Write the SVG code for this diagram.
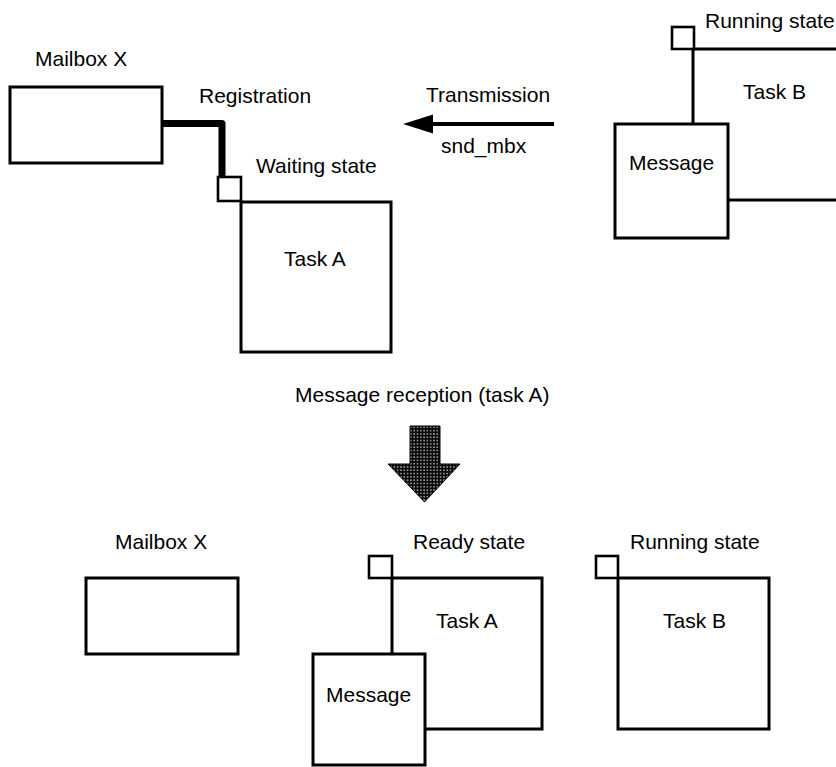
<svg xmlns="http://www.w3.org/2000/svg" width="836" height="767" viewBox="0 0 836 767">
  <defs>
    <style>
      .box { fill: #fff; stroke: #000; stroke-width: 3; }
      .tag { fill: #fff; stroke: #000; stroke-width: 2.6; }
      .lbl { font-family: "Liberation Sans", Arial, Helvetica, sans-serif; font-size: 21px; fill: #000; }
    </style>
    <!-- dense dark mesh used for the transition arrow -->
    <pattern id="mesh" width="3.3" height="3.3" patternUnits="userSpaceOnUse">
      <rect width="3.3" height="3.3" fill="#0a0a0a"/>
      <rect x="1.05" y="1.05" width="1.3" height="1.3" fill="#dcdcdc"/>
    </pattern>
  </defs>
  <rect width="836" height="767" fill="#fff"/>

  <!-- ===== Before: task A waits on mailbox X, task B sends ===== -->
  <g id="mailbox-x-top">
    <rect class="box" x="10" y="87" width="152" height="76"/>
    <text class="lbl" x="35" y="66">Mailbox X</text>
  </g>

  <g id="connectors">
    <!-- registration link from mailbox to waiting task -->
    <path d="M162 123.5 H222 V177" fill="none" stroke="#000" stroke-width="7" stroke-linejoin="round"/>
    <!-- snd_mbx transmission arrow -->
    <line x1="431" y1="124" x2="554" y2="124" stroke="#000" stroke-width="4"/>
    <polygon points="403,124 433,114.5 433,133.5" fill="#000"/>
    <!-- transition arrow between the two states -->
    <polygon points="410,426 440,426 440,464 460,464 424.5,502 388,464 410,464" fill="url(#mesh)" stroke="#000" stroke-width="1"/>
  </g>

  <g id="task-a-top">
    <rect class="box" x="241" y="202" width="150" height="150"/>
    <rect class="tag" x="218" y="177" width="23" height="24"/>
    <text class="lbl" x="256" y="173">Waiting state</text>
    <text class="lbl" x="284" y="266">Task A</text>
  </g>

  <g id="labels-top">
    <text class="lbl" x="199" y="103">Registration</text>
    <text class="lbl" x="426" y="102">Transmission</text>
    <text class="lbl" x="441" y="153">snd_mbx</text>
  </g>

  <g id="task-b-top">
    <rect class="box" x="693" y="49" width="200" height="151"/>
    <rect class="tag" x="672" y="27" width="22" height="22"/>
    <text class="lbl" x="705" y="28">Running state</text>
    <text class="lbl" x="743" y="99">Task B</text>
  </g>

  <g id="message-top">
    <rect class="box" x="615" y="124" width="113" height="114"/>
    <text class="lbl" x="629" y="170">Message</text>
  </g>

  <g id="transition-label">
    <text class="lbl" x="295" y="402">Message reception (task A)</text>
  </g>

  <!-- ===== After: task A ready with the message ===== -->
  <g id="mailbox-x-bottom">
    <rect class="box" x="86" y="578" width="152" height="76"/>
    <text class="lbl" x="115" y="549">Mailbox X</text>
  </g>

  <g id="task-a-bottom">
    <rect class="box" x="392" y="578" width="150" height="151"/>
    <rect class="tag" x="369" y="556" width="23" height="22"/>
    <text class="lbl" x="413" y="549">Ready state</text>
    <text class="lbl" x="436" y="628">Task A</text>
  </g>

  <g id="message-bottom">
    <rect class="box" x="313" y="654" width="112" height="111"/>
    <text class="lbl" x="326" y="702">Message</text>
  </g>

  <g id="task-b-bottom">
    <rect class="box" x="618" y="578" width="151" height="151"/>
    <rect class="tag" x="596" y="556" width="22" height="22"/>
    <text class="lbl" x="630" y="549">Running state</text>
    <text class="lbl" x="663" y="628">Task B</text>
  </g>
</svg>
